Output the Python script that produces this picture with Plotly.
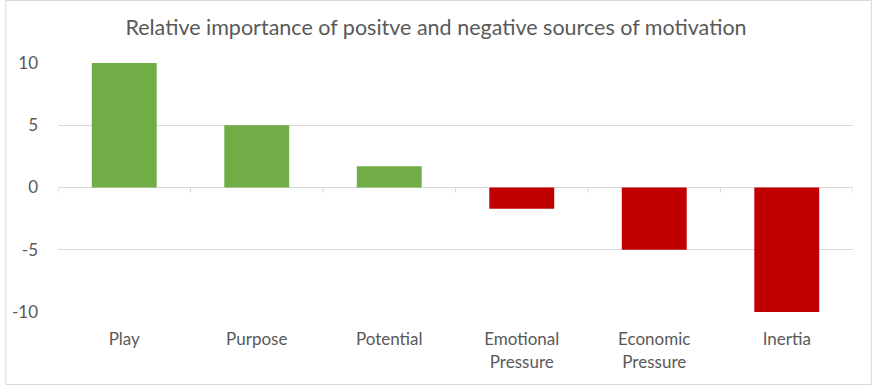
import plotly.graph_objects as go

categories = ["Play", "Purpose", "Potential", "Emotional<br>Pressure", "Economic<br>Pressure", "Inertia"]
values = [10, 5, 1.7, -1.7, -5, -10]
positive_color = "#70ad47"
negative_color = "#c00000"
colors = [positive_color if v >= 0 else negative_color for v in values]
y_ticks = [-10, -5, 0, 5, 10]
y_tick_text = ["-10", "-5", "0", "5", "10"]

fig = go.Figure(go.Bar(
    x=list(range(len(categories))), y=values,
    marker=dict(color=colors, line=dict(width=0)),
    width=0.49,
))

L, R, T, B = 53, 19, 63, 73
PW, PH = 872 - L - R, 385 - T - B

shapes = []
for i in range(len(categories) + 1):
    shapes.append(dict(type="line", xref="x", yref="y", x0=i - 0.5, x1=i - 0.5, y0=0, y1=-0.4,
                       line=dict(color="#d9d9d9", width=1)))
shapes.append(dict(type="rect", xref="paper", yref="paper",
                   x0=-(L - 0.5) / PW, x1=1 + (R - 0.5) / PW,
                   y0=-(B - 0.5) / PH, y1=1 + (T - 0.5) / PH,
                   line=dict(color="#d9d9d9", width=1)))

fig.update_layout(
    width=872, height=385,
    margin=dict(l=L, r=R, t=T, b=B),
    paper_bgcolor="white", plot_bgcolor="white",
    font=dict(family="Lato, sans-serif", color="#595959", size=17),
    title=dict(text="Relative importance of positve and negative sources of motivation",
               x=0.5, xanchor="center", y=1 - 27/385, yanchor="middle",
               font=dict(size=21.5, color="#595959")),
    showlegend=False,
    shapes=shapes,
)
fig.update_xaxes(
    tickmode="array", tickvals=list(range(len(categories))), ticktext=categories,
    range=[-0.5, len(categories) - 0.5],
    showgrid=False, zeroline=False, showline=False,
    ticks="outside", ticklen=12, tickcolor="rgba(0,0,0,0)",
    tickfont=dict(size=17),
)
fig.update_yaxes(
    range=[-10, 10], tickvals=y_ticks, ticktext=y_tick_text,
    showgrid=True, gridcolor="#d9d9d9", gridwidth=1,
    zeroline=True, zerolinecolor="#d9d9d9", zerolinewidth=1,
    showline=False, ticks="", ticklabelstandoff=19,
    tickfont=dict(size=17),
)
fig.write_html("out.html", config={"displayModeBar": False},
               post_script="document.body.style.margin='0';document.body.style.padding='0';")
